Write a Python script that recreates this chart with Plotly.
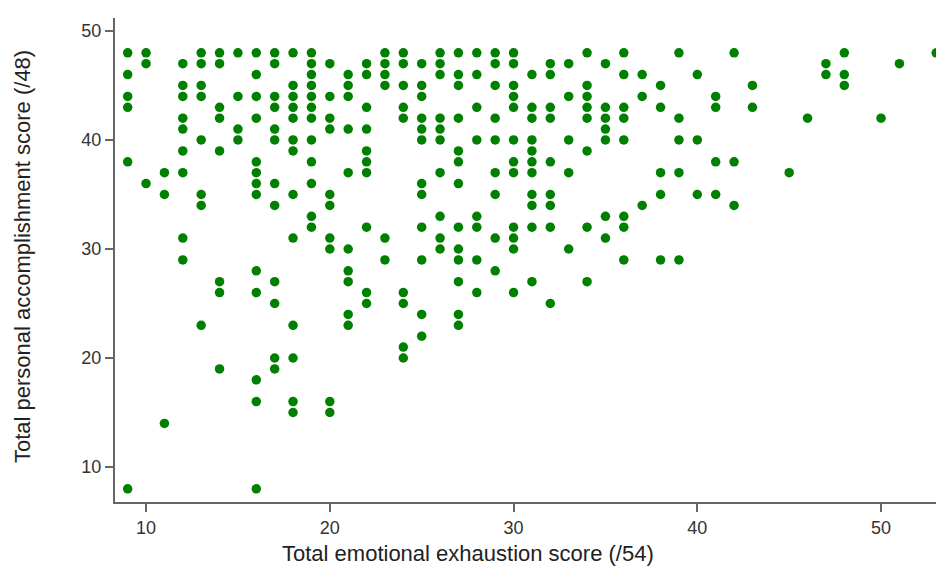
import plotly.graph_objects as go

# Total emotional exhaustion score (/54)
exhaustion = (
    [9]*6 + [10]*3 + [11]*3 + [12]*9 + [13]*8 + [14]*8 + [15]*4 + [16]*13 +
    [17]*12 + [18]*13 + [19]*12 + [20]*10 + [21]*10 + [22]*10 + [23]*6 +
    [24]*9 + [25]*12 + [26]*10 + [27]*13 + [28]*8 + [29]*9 + [30]*12 +
    [31]*11 + [32]*9 + [33]*5 + [34]*8 + [35]*7 + [36]*8 + [37]*3 + [38]*5 +
    [39]*5 + [40]*3 + [41]*4 + [42]*3 + [43]*2 + [45]*1 + [46]*1 + [47]*2 +
    [48]*3 + [50]*1 + [51]*1 + [53]*1
)

# Total personal accomplishment score (/48), in the same order
accomplishment = [
    48, 46, 44, 43, 38, 8,
    48, 47, 36,
    37, 35, 14,
    47, 45, 44, 42, 41, 39, 37, 31, 29,
    48, 47, 45, 44, 40, 35, 34, 23,
    48, 47, 43, 42, 39, 27, 26, 19,
    48, 44, 41, 40,
    48, 46, 44, 42, 38, 37, 36, 35, 28, 26, 18, 16, 8,
    48, 47, 44, 43, 41, 40, 36, 34, 27, 25, 20, 19,
    48, 45, 44, 43, 42, 40, 39, 35, 31, 23, 20, 16, 15,
    48, 47, 46, 45, 44, 43, 42, 40, 38, 36, 33, 32,
    47, 44, 42, 41, 35, 34, 31, 30, 16, 15,
    46, 45, 44, 41, 37, 30, 28, 27, 24, 23,
    47, 46, 43, 41, 39, 38, 37, 32, 26, 25,
    48, 47, 46, 45, 31, 29,
    48, 47, 45, 43, 42, 26, 25, 21, 20,
    47, 45, 44, 42, 41, 40, 36, 35, 32, 29, 24, 22,
    48, 47, 46, 42, 41, 40, 37, 33, 31, 30,
    48, 46, 45, 42, 39, 38, 36, 32, 30, 29, 27, 24, 23,
    48, 46, 43, 40, 33, 32, 29, 26,
    48, 47, 45, 42, 40, 37, 35, 31, 28,
    48, 47, 45, 44, 43, 40, 38, 37, 32, 31, 30, 26,
    46, 43, 42, 40, 39, 38, 37, 35, 34, 32, 27,
    47, 46, 43, 42, 38, 35, 34, 32, 25,
    47, 44, 40, 37, 30,
    48, 45, 44, 43, 42, 39, 32, 27,
    47, 43, 42, 41, 40, 33, 31,
    48, 46, 43, 42, 40, 33, 32, 29,
    46, 44, 34,
    45, 43, 37, 35, 29,
    48, 42, 40, 37, 29,
    46, 40, 35,
    44, 43, 38, 35,
    48, 38, 34,
    45, 43,
    37,
    42,
    47, 46,
    48, 46, 45,
    42,
    47,
    48,
]

x_ticks = [10, 20, 30, 40, 50]
y_ticks = [10, 20, 30, 40, 50]
x_title = "Total emotional exhaustion score (/54)"
y_title = "Total personal accomplishment score (/48)"

FONT = "Liberation Sans, Arial, sans-serif"

fig = go.Figure(
    go.Scatter(
        x=exhaustion,
        y=accomplishment,
        mode="markers",
        marker=dict(color="#008000", size=9.5, line=dict(width=0)),
        hoverinfo="x+y",
    )
)

axis_common = dict(
    ticks="outside",
    ticklen=8,
    tickwidth=1.5,
    tickcolor="#666666",
    showline=True,
    linecolor="#666666",
    linewidth=2,
    showgrid=False,
    zeroline=False,
    automargin=False,
    tickfont=dict(family=FONT, size=18, color="#333333"),
)

fig.update_layout(
    width=936,
    height=567,
    margin=dict(l=115, r=0, t=18, b=65),
    paper_bgcolor="white",
    plot_bgcolor="white",
    showlegend=False,
    font=dict(family=FONT, size=18, color="#333333"),
    xaxis=dict(range=[8.31, 52.99], tickvals=x_ticks, **axis_common),
    yaxis=dict(range=[6.79, 51.19], tickvals=y_ticks, **axis_common),
    annotations=[
        dict(text=x_title, xref="paper", yref="paper", x=0.43, y=-0.1054,
             xanchor="center", yanchor="middle", showarrow=False,
             font=dict(family=FONT, size=22, color="#222222")),
        dict(text=y_title, xref="paper", yref="paper", x=-0.1133, y=0.508,
             xanchor="center", yanchor="middle", textangle=-90, showarrow=False,
             font=dict(family=FONT, size=22, color="#222222")),
    ],
)

fig.write_html(
    "out.html",
    config={"displayModeBar": False},
    post_script="document.body.style.margin='0';document.body.style.overflow='hidden';",
)
